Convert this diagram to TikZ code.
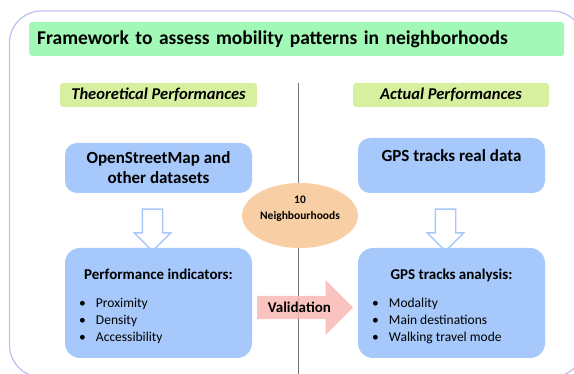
\documentclass[tikz,border=0pt]{standalone}
\usepackage{fontspec}
\setmainfont{Carlito}
\usetikzlibrary{shapes.geometric,shapes.arrows}
\definecolor{lilla}{RGB}{190,190,240}
\definecolor{verde}{RGB}{162,248,182}
\definecolor{giallino}{RGB}{214,240,160}
\definecolor{blu}{RGB}{166,200,250}
\definecolor{bordoblu}{RGB}{168,200,248}
\definecolor{pesca}{RGB}{248,206,164}
\definecolor{rosa}{RGB}{248,186,180}
\definecolor{grigio}{RGB}{112,112,112}
\tikzstyle{framework}=[
    x=1pt,y=-1pt,
    title box/.style={fill=verde,rounded corners=3pt,anchor=west,inner xsep=8pt,
        text width=519pt,minimum height=34pt,align=left,
        font={\fontsize{19.5}{22}\selectfont\bfseries}},
    side title/.style={fill=giallino,rounded corners=3pt,minimum width=197pt,minimum height=24pt,
        font={\fontsize{16.5}{18}\selectfont\bfseries\itshape}},
    data box/.style={fill=blu,rounded corners=12pt,minimum width=187pt,align=center,
        font={\fontsize{17}{20}\selectfont\bfseries}},
    analysis box/.style={fill=blu,rounded corners=15pt,minimum height=110pt,minimum width=187pt,
        inner sep=0pt,font={\fontsize{13.5}{17}\selectfont}},
    down arrow/.style={single arrow,draw=bordoblu,fill=white,line width=1.4pt,
        shape border rotate=270,minimum height=42pt,minimum width=35pt,
        single arrow head extend=8pt,inner sep=9.5pt},
    divider/.style={grigio,line width=0.8pt},
]
\newcommand{\elenco}[2]{\parbox{187pt}{\vspace*{7pt}\centerline{\fontsize{15}{17}\selectfont\bfseries #1}\vspace{11pt}#2}}
\newcommand{\voce}[1]{\hbox{\hspace{14pt}\makebox[17pt][l]{\textbullet}#1}}

\begin{document}
\begin{tikzpicture}[framework]
    \useasboundingbox (0,0) rectangle (574,374);
    \draw[lilla,line width=1.2pt,rounded corners=32pt] (9.5,11) rectangle (584,377);

    \node[title box] (title) at (29,39) {Framework to assess mobility patterns in neighborhoods};

    \node[side title] (theory) at (158.5,95) {Theoretical Performances};
    \node[side title,minimum width=196pt] (actual) at (451,95) {Actual Performances};

    \coordinate (linetop) at (298,83);
    \coordinate (linebottom) at (298,374);
    \draw[divider] (linetop) -- (linebottom);

    \node[data box,minimum height=50pt] (osm) at (158.5,168) {OpenStreetMap and\\other datasets};
    \node[data box,minimum height=55pt,text depth=20pt] (gpsdata) at (451.5,165.5) {GPS tracks real data};

    \node[ellipse,fill=pesca,minimum width=116pt,minimum height=65pt,inner sep=0pt,align=center,
        text depth=15pt,font={\fontsize{11.5}{16}\selectfont\bfseries}] (quartieri) at (300,215.5) {10\\Neighbourhoods};

    \node[down arrow] (arrowleft) at (152.5,225) {};
    \node[down arrow] (arrowright) at (445.5,225) {};

    \node[analysis box] (indicators) at (158.5,303) {\elenco{Performance indicators:}%
        {\voce{Proximity}\voce{Density}\voce{Accessibility}}};
    \node[analysis box] (gpsanalysis) at (451.5,303) {\elenco{GPS tracks analysis:}%
        {\voce{Modality}\voce{Main destinations}\voce{Walking travel mode}}};

    \node[single arrow,fill=rosa,fill opacity=0.85,text opacity=1,anchor=tail,minimum height=96pt,
        minimum width=55pt,single arrow head extend=12pt,inner xsep=10pt,
        font={\fontsize{15}{17}\selectfont\bfseries}] (validation) at (257,307.5) {Validation};
\end{tikzpicture}
\end{document}
